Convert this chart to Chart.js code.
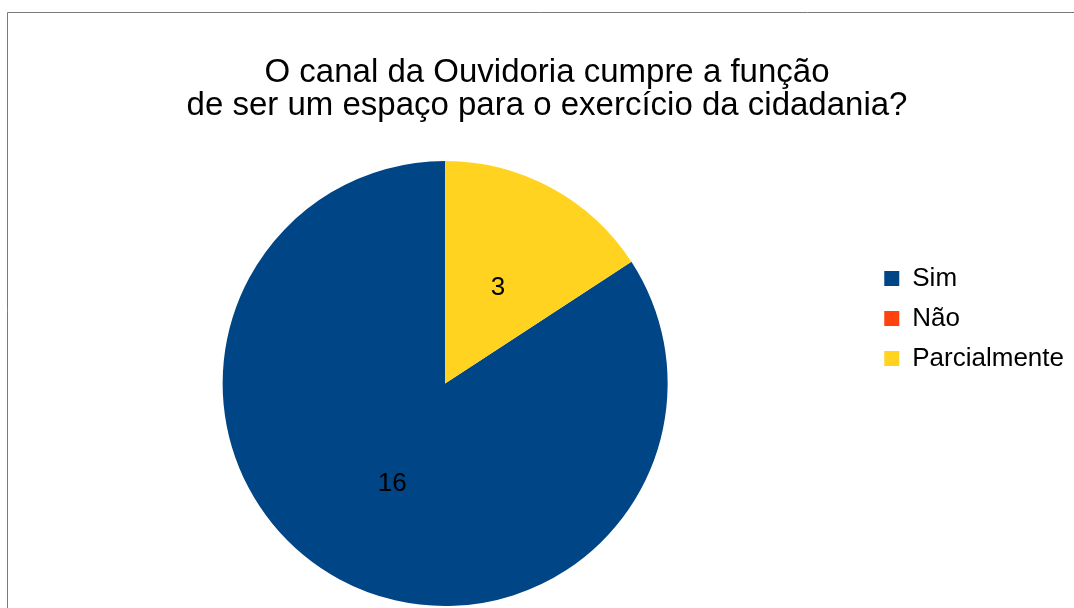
<!DOCTYPE html>
<html lang="pt">
<head>
    <meta charset="UTF-8">
    <title>Ouvidoria - Cidadania</title>
    <script src="https://cdn.jsdelivr.net/npm/chart.js"></script>
    <style>
        html, body { margin: 0; padding: 0; background: #fff; }
        .wrap { width: 1074px; height: 608px; position: relative; }
    </style>
</head>
<body>
    <div class="wrap">
        <canvas id="pieChart"></canvas>
    </div>

    <script>
        const titleLines = ['O canal da Ouvidoria cumpre a função', 'de ser um espaço para o exercício da cidadania?'];
        const categories = ['Sim', 'Não', 'Parcialmente'];
        const answers = [16, 0, 3];
        const sliceColors = ['#004586', '#ff420e', '#ffd320'];

        const fontFamily = '"Liberation Sans", Arial, sans-serif';
        const total = answers.reduce((a, b) => a + b, 0);

        // thin grey frame along the top and left edges
        const framePlugin = {
            id: 'frame',
            beforeDraw(chart) {
                const ctx = chart.ctx;
                ctx.save();
                ctx.fillStyle = '#fff';
                ctx.fillRect(0, 0, chart.width, chart.height);
                ctx.lineWidth = 1;
                ctx.strokeStyle = '#7a7a7a';
                ctx.beginPath();
                ctx.moveTo(7.5, chart.height);
                ctx.lineTo(7.5, 12.5);
                ctx.lineTo(chart.width, 12.5);
                ctx.stroke();
                ctx.restore();
            }
        };

        // value printed in the middle of each non-empty slice
        const valueLabels = {
            id: 'valueLabels',
            afterDatasetsDraw(chart) {
                const ctx = chart.ctx;
                const meta = chart.getDatasetMeta(0);
                ctx.save();
                ctx.font = '26px ' + fontFamily;
                ctx.fillStyle = '#000';
                ctx.textAlign = 'center';
                ctx.textBaseline = 'middle';
                meta.data.forEach((arc, i) => {
                    const v = chart.data.datasets[0].data[i];
                    if (!v) return;
                    const p = arc.tooltipPosition();
                    ctx.fillText(String(v), p.x, p.y + 2);
                });
                ctx.restore();
            }
        };

        new Chart(document.getElementById('pieChart'), {
            type: 'pie',
            data: {
                labels: categories,
                datasets: [{
                    data: answers,
                    backgroundColor: sliceColors,
                    borderWidth: 0,
                    // last slice ends at 12 o'clock
                    rotation: 360 * answers[answers.length - 1] / total
                }]
            },
            options: {
                responsive: true,
                maintainAspectRatio: false,
                animation: false,
                events: [],
                layout: { padding: { left: 20, right: 0, top: 0, bottom: 2 } },
                plugins: {
                    tooltip: { enabled: false },
                    title: {
                        display: true,
                        text: titleLines,
                        color: '#000',
                        font: { family: fontFamily, size: 33, weight: 'normal', lineHeight: 1.015 },
                        padding: { top: 56, bottom: 38 }
                    },
                    legend: {
                        position: 'right',
                        align: 'start',
                        fullSize: false,
                        maxWidth: 204,
                        // empty title used as a spacer above the items
                        title: { display: true, text: '', font: { size: 12 }, padding: { top: 76, bottom: 0 } },
                        labels: {
                            boxWidth: 15,
                            boxHeight: 15,
                            padding: 14,
                            color: '#000',
                            font: { family: fontFamily, size: 26 }
                        }
                    }
                }
            },
            plugins: [framePlugin, valueLabels]
        });
    </script>
</body>
</html>
